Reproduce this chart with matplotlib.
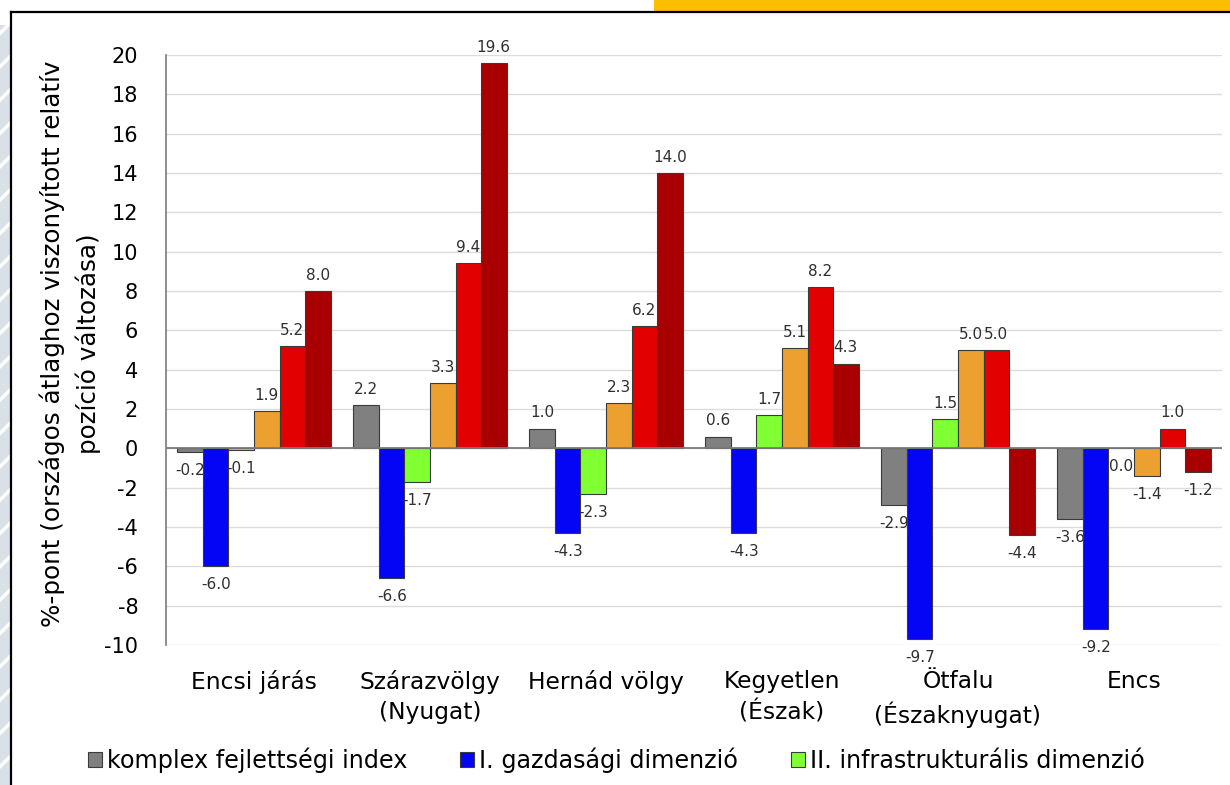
import matplotlib
matplotlib.use("Agg")
import matplotlib.pyplot as plt
import numpy as np
from matplotlib.patches import Rectangle, Patch
from matplotlib.lines import Line2D

plt.rcParams['font.family'] = ['DejaVu Sans']
plt.rcParams['hatch.linewidth'] = 2.5

categories = ["Encsi járás", "Szárazvölgy\n(Nyugat)", "Hernád völgy",
              "Kegyetlen\n(Észak)", "Ötfalu\n(Északnyugat)", "Encs"]

komplex = [-0.2, 2.2, 1.0, 0.6, -2.9, -3.6]
gazdasagi = [-6.0, -6.6, -4.3, -4.3, -9.7, -9.2]
infrastrukturalis = [-0.1, -1.7, -2.3, 1.7, 1.5, 0.0]
dim3 = [1.9, 3.3, 2.3, 5.1, 5.0, -1.4]
dim4 = [5.2, 9.4, 6.2, 8.2, 5.0, 1.0]
dim5 = [8.0, 19.6, 14.0, 4.3, -4.4, -1.2]

series = [komplex, gazdasagi, infrastrukturalis, dim3, dim4, dim5]
colors = ["#808080", "#0505F5", "#80FF33", "#EBA030", "#E30000", "#A80000"]
legend_labels = ["komplex fejlettségi index", "I. gazdasági dimenzió",
                 "II. infrastrukturális dimenzió"]

yticks = list(range(-10, 21, 2))

fig = plt.figure(figsize=(12.3, 7.85), dpi=100)
fig.patch.set_facecolor("white")

# decorative frame: hatched strip on the left, orange banner on top, black border
strip = Rectangle((0, 0), 10 / 1230, 1 - 25 / 785, transform=fig.transFigure,
                  facecolor="#d9e0e8", edgecolor="white", hatch="/",
                  linewidth=0, zorder=0)
fig.patches.append(strip)
banner = Rectangle((654 / 1230, 1 - 11 / 785), 1 - 654 / 1230, 11 / 785,
                   transform=fig.transFigure, facecolor="#FDBD00",
                   edgecolor="none", zorder=0)
fig.patches.append(banner)
fig.add_artist(Line2D([11 / 1230, 1], [1 - 12 / 785, 1 - 12 / 785],
                      transform=fig.transFigure, color="black", lw=1.6))
fig.add_artist(Line2D([11 / 1230, 11 / 1230], [0, 1 - 12 / 785],
                      transform=fig.transFigure, color="black", lw=1.6))

ax = fig.add_axes([166 / 1230, 1 - 645 / 785, (1222 - 166) / 1230, (645 - 55) / 785])

x = np.arange(len(categories))
w = 0.145
for i, (vals, col) in enumerate(zip(series, colors)):
    pos = x + (i - 2.5) * w
    ax.bar(pos, vals, width=w, color=col, edgecolor="#3a3a3a", linewidth=0.8,
           zorder=3)
    for px, v in zip(pos, vals):
        if v > 0:
            ax.annotate(f"{v:.1f}", (px, v), xytext=(0, 6), textcoords="offset points",
                        ha="center", va="bottom", fontsize=11,
                        color="#2f2f2f", zorder=2)
        else:
            ax.annotate(f"{v:.1f}", (px, v), xytext=(0, -8), textcoords="offset points",
                        ha="center", va="top", fontsize=11,
                        color="#2f2f2f", zorder=2)

ax.set_xlim(-0.5, len(categories) - 0.5)
ax.set_ylim(-10, 20)
ax.set_yticks(yticks)
ax.set_yticklabels([str(t) for t in yticks], fontsize=15)
ax.set_xticks(x)
ax.set_xticklabels(categories, fontsize=16.8, linespacing=1.4)
ax.tick_params(axis="both", length=0)
ax.tick_params(axis="y", pad=20)
ax.tick_params(axis="x", pad=18)

ax.grid(axis="y", color="#dcdcdc", linewidth=1.0, zorder=0)
ax.set_axisbelow(True)
ax.axhline(0, color="#7a7a7a", linewidth=1.3, zorder=4)
for s in ["top", "right", "bottom"]:
    ax.spines[s].set_visible(False)
ax.spines["left"].set_color("#7a7a7a")
ax.spines["left"].set_linewidth(1.2)

ax.set_ylabel("%-pont (országos átlaghoz viszonyított relatív\npozíció változása)",
              fontsize=17.7, linespacing=1.5, labelpad=4)
ax.yaxis.set_label_coords(-0.0615, 0.51)

handles = [Patch(facecolor=c, edgecolor="#3a3a3a", linewidth=0.8) for c in colors[:3]]
fig.legend(handles, legend_labels, loc="center left",
           bbox_to_anchor=(88 / 1230, 1 - 760 / 785), ncol=3, frameon=False,
           fontsize=17.2, handlelength=0.6, handleheight=0.6, handletextpad=0.2,
           columnspacing=2.2, borderaxespad=0, borderpad=0)

fig.savefig("out.png", dpi=100)
